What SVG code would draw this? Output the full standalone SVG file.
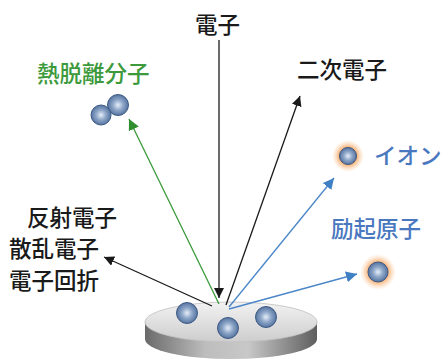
<svg xmlns="http://www.w3.org/2000/svg" width="447" height="363" viewBox="0 0 447 363">
  <defs>
    <style>
      .lbl { font-family: "Noto Sans CJK JP", "Noto Sans CJK SC", sans-serif; font-size: 22.5px; font-weight: 500; }
      .dark { fill: #1a1a1a; }
      .green { fill: #3c9a3c; }
      .blue { fill: #4a78bf; }
      .ln-black { stroke: #1a1a1a; stroke-width: 1.3; fill: none; }
      .ln-green { stroke: #3a9a3a; stroke-width: 1.3; fill: none; }
      .ln-blue { stroke: #4a86c8; stroke-width: 1.3; fill: none; }
      .ball { fill: url(#ballGrad); stroke: #3d5a85; stroke-width: 1; }
    </style>
    <radialGradient id="ballGrad" cx="0.5" cy="0.5" r="0.55" fx="0.5" fy="0.5">
      <stop offset="0" stop-color="#e6eef8"/>
      <stop offset="0.45" stop-color="#8ea7c9"/>
      <stop offset="1" stop-color="#4b6a98"/>
    </radialGradient>
    <radialGradient id="glow" cx="0.5" cy="0.5" r="0.5">
      <stop offset="0.5" stop-color="#f5a05a" stop-opacity="0.95"/>
      <stop offset="1" stop-color="#fbd2a8" stop-opacity="0"/>
    </radialGradient>
    <linearGradient id="diskTop" x1="0" y1="0" x2="0" y2="1">
      <stop offset="0" stop-color="#f2f2f2"/>
      <stop offset="1" stop-color="#cdcdcd"/>
    </linearGradient>
    <linearGradient id="diskSide" x1="0" y1="0" x2="1" y2="0">
      <stop offset="0" stop-color="#6a6a6a"/>
      <stop offset="0.35" stop-color="#bdbdbd"/>
      <stop offset="0.6" stop-color="#c8c8c8"/>
      <stop offset="1" stop-color="#5e5e5e"/>
    </linearGradient>
    <marker id="ahBlack" viewBox="0 0 10 10" refX="10" refY="5" markerWidth="10" markerHeight="10" markerUnits="userSpaceOnUse" orient="auto">
      <path d="M0,0 L10,5 L0,10 z" fill="#1a1a1a"/>
    </marker>
    <marker id="ahGreen" viewBox="0 0 10 10" refX="10" refY="5" markerWidth="11" markerHeight="11" markerUnits="userSpaceOnUse" orient="auto">
      <path d="M0,0 L10,5 L0,10 z" fill="#2f8f2f"/>
    </marker>
    <marker id="ahBlue" viewBox="0 0 10 10" refX="10" refY="5" markerWidth="11" markerHeight="11" markerUnits="userSpaceOnUse" orient="auto">
      <path d="M0,0 L10,5 L0,10 z" fill="#3f7fc4"/>
    </marker>
  </defs>

  <rect width="447" height="363" fill="#ffffff"/>

  <!-- sample disk -->
  <g id="sample">
    <path d="M145,322 L145,339 A86,20 0 0 0 317,339 L317,322 Z" fill="url(#diskSide)"/>
    <ellipse cx="231" cy="322" rx="86" ry="20" fill="url(#diskTop)" stroke="#c0c0c0" stroke-width="0.8"/>
    <circle class="ball" cx="187" cy="313" r="10.5"/>
    <circle class="ball" cx="228" cy="328" r="10.5"/>
    <circle class="ball" cx="266" cy="317" r="10.5"/>
  </g>

  <!-- connectors -->
  <g id="connectors">
    <line class="ln-black" x1="219" y1="40" x2="219" y2="298" marker-end="url(#ahBlack)"/>
    <line class="ln-green" x1="219" y1="304" x2="129" y2="119" marker-end="url(#ahGreen)"/>
    <line class="ln-black" x1="226" y1="305" x2="300" y2="96" marker-end="url(#ahBlack)"/>
    <line class="ln-blue" x1="229" y1="307" x2="334" y2="178" marker-end="url(#ahBlue)"/>
    <line class="ln-blue" x1="229" y1="309" x2="357" y2="274" marker-end="url(#ahBlue)"/>
    <line class="ln-black" x1="212" y1="306" x2="104" y2="257" marker-end="url(#ahBlack)"/>
  </g>

  <!-- incident electron -->
  <g id="incident">
    <text class="lbl dark" x="195" y="33">電子</text>
  </g>

  <!-- thermally desorbed molecule -->
  <g id="desorbed">
    <text class="lbl green" x="37" y="82">熱脱離分子</text>
    <circle class="ball" cx="118" cy="105" r="10.5"/>
    <circle class="ball" cx="101" cy="115" r="10"/>
  </g>

  <!-- secondary electron -->
  <g id="secondary">
    <text class="lbl dark" x="297" y="78">二次電子</text>
  </g>

  <!-- ion -->
  <g id="ion">
    <circle cx="348" cy="156" r="16" fill="url(#glow)"/>
    <circle class="ball" cx="348" cy="156" r="8.5"/>
    <text class="lbl blue" x="374" y="164">イオン</text>
  </g>

  <!-- excited atom -->
  <g id="excited">
    <text class="lbl blue" x="331" y="237">励起原子</text>
    <circle cx="378" cy="272" r="18" fill="url(#glow)"/>
    <circle class="ball" cx="378" cy="272" r="10"/>
  </g>

  <!-- reflected / scattered electrons -->
  <g id="scattered">
    <text class="lbl dark" x="27" y="226">反射電子</text>
    <text class="lbl dark" x="9" y="257">散乱電子</text>
    <text class="lbl dark" x="9" y="289">電子回折</text>
  </g>
</svg>
